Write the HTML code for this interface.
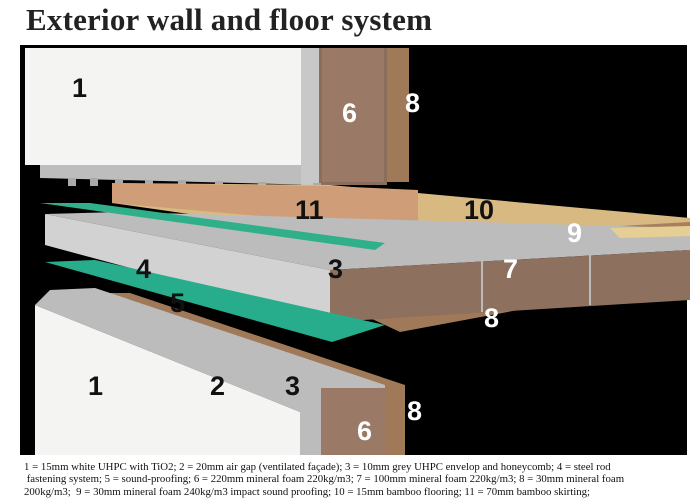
<!DOCTYPE html>
<html><head><style>
body{margin:0;width:700px;height:500px;background:#fff;overflow:hidden;position:relative;font-family:"Liberation Serif",serif}
.t{position:absolute;left:26px;top:2px;font-size:31px;font-weight:bold;color:#222;letter-spacing:0.2px}
.c{position:absolute;left:24px;top:461px;width:680px;font-size:10.8px;line-height:12.3px;color:#111;white-space:nowrap}
svg{position:absolute;left:0;top:0}
</style></head><body>
<div class="t">Exterior wall and floor system</div>
<svg width="700" height="500" viewBox="0 0 700 500">
<rect x="20" y="45" width="667" height="410" fill="#000"/>
<polygon points="40,165 320,165 320,185 40,178" fill="#bdbdbd"/>
<rect x="25" y="48" width="276" height="117" fill="#f4f4f2"/>
<rect x="301" y="48" width="18" height="137" fill="#c8c8c8"/>
<rect x="319" y="48" width="68" height="137" fill="#8a6e5c"/>
<rect x="322" y="48" width="62" height="134" fill="#9a7a66"/>
<rect x="387" y="48" width="22" height="134" fill="#a07a58"/>
<g fill="#aaa"><rect x="68" y="178" width="8" height="8"/><rect x="90" y="178" width="8" height="8"/><rect x="115" y="179" width="8" height="8"/><rect x="145" y="180" width="8" height="8"/><rect x="178" y="180" width="8" height="8"/><rect x="215" y="181" width="8" height="8"/><rect x="258" y="182" width="8" height="8"/><rect x="313" y="183" width="8" height="8"/></g>
<polygon points="112,183 330,185 690,218 690,232 412,246 112,203" fill="#d9b982"/>
<polygon points="112,183 330,186 418,190 418,230 112,203" fill="#cf9e78"/>
<polygon points="412,238 690,222 690,232 412,248" fill="#a87e5c"/>
<polygon points="370,318 690,262 690,278 400,332" fill="#a07a58"/>
<polygon points="45,214 120,212 690,228 690,250 330,270" fill="#bcbcbc"/>
<polygon points="45,214 330,270 330,322 45,245" fill="#d2d2d2"/>
<polygon points="330,270 690,250 690,300 330,322" fill="#8e705e"/>
<line x1="482" y1="261" x2="482" y2="312" stroke="#bbb" stroke-width="2"/>
<line x1="590" y1="255" x2="590" y2="305" stroke="#bbb" stroke-width="2"/>
<polygon points="610,228 690,226 690,236 620,238" fill="#e6cf95"/>
<polygon points="40,203 90,203 385,243 375,250" fill="#2fb08a"/>
<polygon points="45,262 95,260 385,325 332,342" fill="#27ad8c"/>
<polygon points="105,293 130,293 405,385 405,455 385,455 385,387" fill="#a07a58"/>
<polygon points="50,290 95,288 385,385 385,455 300,455 300,412 35,305" fill="#bcbcbc"/>
<polygon points="35,305 300,412 300,455 35,455" fill="#f4f4f2"/>
<rect x="321" y="388" width="64" height="67" fill="#9a7a66"/>
<g font-family="Liberation Sans,sans-serif" font-weight="bold" font-size="27">
<text x="72" y="97" fill="#111">1</text>
<text x="342" y="122" fill="#fff">6</text>
<text x="405" y="112" fill="#fff">8</text>
<text x="295" y="219" fill="#111">11</text>
<text x="464" y="219" fill="#111">10</text>
<text x="567" y="242" fill="#fff">9</text>
<text x="503" y="278" fill="#fff">7</text>
<text x="328" y="278" fill="#111">3</text>
<text x="136" y="278" fill="#111">4</text>
<text x="170" y="312" fill="#111">5</text>
<text x="484" y="327" fill="#fff">8</text>
<text x="88" y="395" fill="#111">1</text>
<text x="210" y="395" fill="#111">2</text>
<text x="285" y="395" fill="#111">3</text>
<text x="407" y="420" fill="#fff">8</text>
<text x="357" y="440" fill="#fff">6</text>
</g>
</svg>
<div class="c">1 = 15mm white UHPC with TiO2; 2 = 20mm air gap (ventilated façade); 3 = 10mm grey UHPC envelop and honeycomb; 4 = steel rod<br>&nbsp;fastening system; 5 = sound-proofing; 6 = 220mm mineral foam 220kg/m3; 7 = 100mm mineral foam 220kg/m3; 8 = 30mm mineral foam<br>200kg/m3;&nbsp; 9 = 30mm mineral foam 240kg/m3 impact sound proofing; 10 = 15mm bamboo flooring; 11 = 70mm bamboo skirting;</div>
</body></html>
